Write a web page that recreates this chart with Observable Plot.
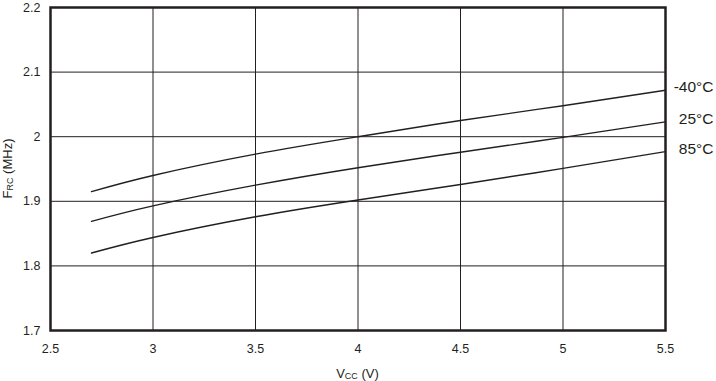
<!DOCTYPE html>
<html>
<head>
<meta charset="utf-8">
<script src="https://cdn.jsdelivr.net/npm/d3@7"></script>
<script src="https://cdn.jsdelivr.net/npm/@observablehq/plot@0.6"></script>
<style>
  html, body { margin: 0; padding: 0; background: #fff; }
  #chart svg { display: block; }
</style>
</head>
<body>
<div id="chart"></div>
<script>
// Supply voltage (V)
const vcc = [2.7, 3, 3.5, 4, 4.5, 5, 5.5];
// F_RC (MHz) per temperature
const fM40 = [1.915, 1.940, 1.973, 2.000, 2.025, 2.048, 2.072];
const f25  = [1.869, 1.893, 1.925, 1.952, 1.976, 1.999, 2.023];
const f85  = [1.820, 1.844, 1.876, 1.902, 1.926, 1.951, 1.977];
const temps = ["-40°C", "25°C", "85°C"];
const xTicks = [2.5, 3, 3.5, 4, 4.5, 5, 5.5];
const yTicks = [1.7, 1.8, 1.9, 2, 2.1, 2.2];

const series = [fM40, f25, f85];
const rows = [];
series.forEach((vals, i) => vals.forEach((v, j) => rows.push({temp: temps[i], x: vcc[j], y: v})));
const ends = series.map((vals, i) => ({temp: temps[i], x: vcc[vcc.length - 1], y: vals[vals.length - 1]}));

const ink = "#231f20";
const font = "'Liberation Sans', Arial, Helvetica, sans-serif";

const chart = Plot.plot({
  width: 716,
  height: 381,
  marginLeft: 50,
  marginRight: 51,
  marginTop: 7,
  marginBottom: 51,
  style: {fontFamily: font, fontSize: "12.5px", color: ink, background: "#fff"},
  x: {domain: [2.5, 5.5], ticks: xTicks, tickFormat: d => String(d), label: null, tickSize: 0, tickPadding: 14},
  y: {domain: [1.7, 2.2], ticks: yTicks, tickFormat: d => String(d), label: null, tickSize: 0, tickPadding: 10},
  marks: [
    Plot.gridX(xTicks, {stroke: ink, strokeOpacity: 1, strokeWidth: 1}),
    Plot.gridY(yTicks, {stroke: ink, strokeOpacity: 1, strokeWidth: 1}),
    Plot.line(rows, {x: "x", y: "y", z: "temp", stroke: ink, strokeWidth: 1.4, curve: "natural"}),
    Plot.frame({stroke: ink, strokeWidth: 2.5}),
    Plot.text(ends, {x: "x", y: "y", text: "temp", textAnchor: "end", dx: 48, dy: -3, fontSize: 15.5, fill: ink}),
    Plot.axisX({ticks: xTicks, tickFormat: d => String(d), tickSize: 0, tickPadding: 14, label: null}),
    Plot.axisY({ticks: yTicks, tickFormat: d => String(d), tickSize: 0, tickPadding: 10, label: null})
  ]
});

document.getElementById("chart").appendChild(chart);

// Axis titles with subscripts
const svg = d3.select(chart);
const xr = chart.scale("x").range;
const yr = chart.scale("y").range;
const xl = svg.append("text")
  .attr("x", (xr[0] + xr[1]) / 2)
  .attr("y", 378)
  .attr("text-anchor", "middle")
  .attr("fill", ink)
  .style("font-family", font)
  .style("font-size", "13px");
xl.append("tspan").text("V");
xl.append("tspan").attr("font-size", "9px").attr("dy", "1").text("CC");
xl.append("tspan").attr("dy", "-1").text(" (V)");

const yl = svg.append("text")
  .attr("transform", `translate(12,${(yr[0] + yr[1]) / 2}) rotate(-90)`)
  .attr("text-anchor", "middle")
  .attr("fill", ink)
  .style("font-family", font)
  .style("font-size", "13px");
yl.append("tspan").text("F");
yl.append("tspan").attr("font-size", "9px").attr("dy", "1").text("RC");
yl.append("tspan").attr("dy", "-1").text(" (MHz)");
</script>
</body>
</html>
